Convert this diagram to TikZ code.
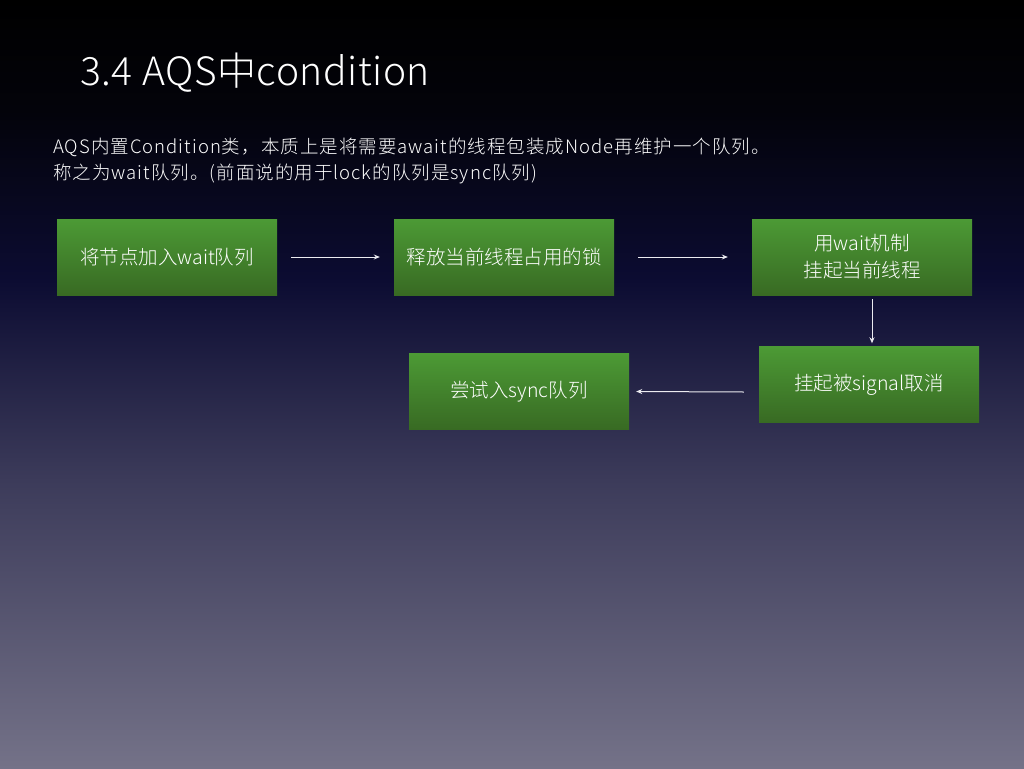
\documentclass[tikz,border=0pt]{standalone}
\usepackage{fontspec}
\setmainfont{Noto Sans CJK SC}[UprightFont=* Light]
\newfontfamily\bodyfont{Noto Sans CJK SC}[UprightFont=* Light, LetterSpace=5.5]
\newfontfamily\titlefont{Noto Sans CJK SC}[UprightFont=* Light, LetterSpace=1.5]
\usetikzlibrary{arrows.meta}
\definecolor{bgA}{RGB}{0,0,0}
\definecolor{bgB}{RGB}{3,3,10}
\definecolor{bgC}{RGB}{12,12,50}
\definecolor{bgD}{RGB}{60,59,90}
\definecolor{bgE}{RGB}{116,114,136}
\definecolor{gTop}{RGB}{76,154,53}
\definecolor{gBot}{RGB}{56,106,35}
\definecolor{arr}{RGB}{235,235,240}
\tikzset{
  flowbox/.style={rectangle, minimum width=220pt, minimum height=76pt, inner sep=0pt,
    top color=gTop, bottom color=gBot, text=white, align=center,
    font=\fontsize{19.5}{27}\selectfont},
  flowarrow/.style={draw=arr, line width=1pt, -{Stealth[length=6pt,width=5pt]}},
  titletext/.style={anchor=base west, inner sep=0pt, text=white, font=\titlefont\fontsize{39}{44}\selectfont},
  bodytext/.style={anchor=base west, inner sep=0pt, text=white, font=\bodyfont\fontsize{18.5}{22}\selectfont}
}
\begin{document}
\begin{tikzpicture}[x=1pt,y=-1pt]
\useasboundingbox (0,0) rectangle (1024,768);
\fill[top color=bgA, bottom color=bgB] (0,-0.5) rectangle (1024,110.5);
\fill[top color=bgB, bottom color=bgC] (0,110) rectangle (1024,280.5);
\fill[top color=bgC, bottom color=bgD] (0,280) rectangle (1024,480.5);
\fill[top color=bgD, bottom color=bgE] (0,480) rectangle (1024,768.5);

\node[titletext] (title) at (80,85) {3.4 AQS中condition};
\node[bodytext] (l1) at (53,153) {AQS内置Condition类，本质上是将需要await的线程包装成Node再维护一个队列。};
\node[bodytext] (l2) at (53,179) {称之为wait队列。(前面说的用于lock的队列是sync队列)};

\node[flowbox] (b1) at (167,257) {将节点加入wait队列};
\node[flowbox] (b2) at (504,257) {释放当前线程占用的锁};
\node[flowbox] (b3) at (862,257) {用wait机制\\挂起当前线程};
\node[flowbox] (b4) at (869,384.5) {挂起被signal取消};
\node[flowbox] (b5) at (519,391.5) {尝试入sync队列};

\draw[flowarrow] ([shift={(14,0)}]b1.east) -- ([shift={(-14,0)}]b2.west);
\draw[flowarrow] ([shift={(24,0)}]b2.east) -- ([shift={(-24,0)}]b3.west);
\draw[flowarrow] ([shift={(10,4)}]b3.south) -- ([shift={(3,-3)}]b4.north);
\draw[flowarrow] ([shift={(-15,7.5)}]b4.west) -- ([shift={(7,0)}]b5.east);
\end{tikzpicture}
\end{document}
